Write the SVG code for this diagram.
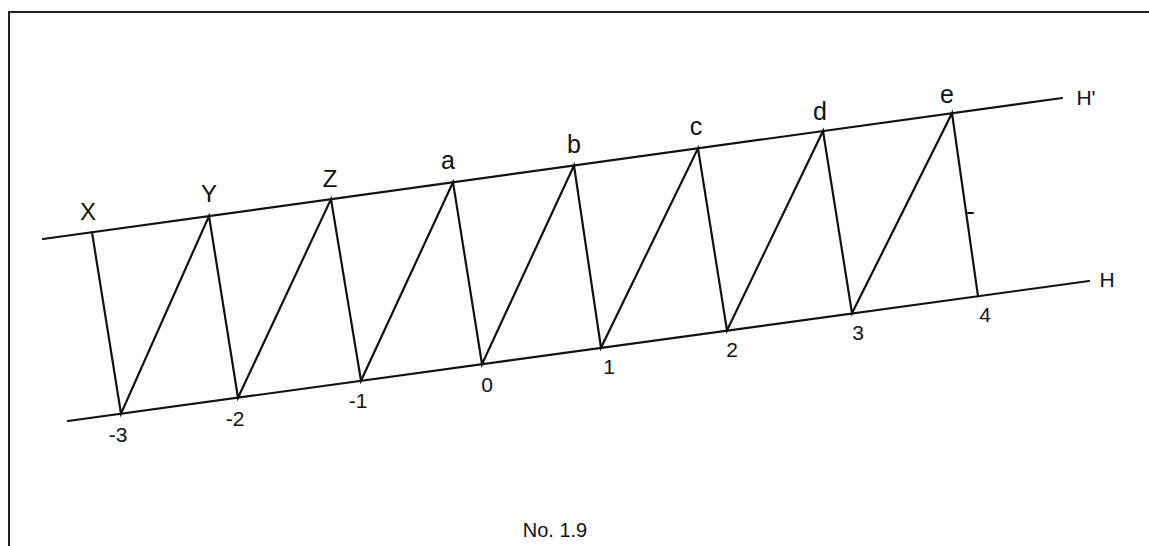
<svg xmlns="http://www.w3.org/2000/svg" width="1149" height="546" viewBox="0 0 1149 546">
<style>
.ln{stroke:#111;stroke-width:2.2;fill:none;stroke-linecap:round}
.bd{stroke:#222;stroke-width:2;fill:none}
.t{font-family:"Liberation Sans","DejaVu Sans",sans-serif;fill:#111;text-anchor:middle}
.cap{font-size:24px}
.lc{font-size:25px}
.dg{font-size:21px}
</style>
<rect width="1149" height="546" fill="#fff"/>
<g id="frame">
<polyline class="bd" points="9,546 9,12 1149,12"/>
</g>
<g id="connectors">
<line class="ln" x1="43" y1="239" x2="1062" y2="98"/>
<line class="ln" x1="68" y1="421" x2="1089" y2="281"/>
<polyline class="ln" points="92,232.2 121,413.7 209,216.0 238,397.7 331,199.1 361,380.8 453,182.2 482,364.2 574,165.5 601,347.7 698,148.3 727,330.4 823,131.0 852,313.3 952,113.2 978,296.2"/>
<line class="ln" x1="968" y1="213" x2="973" y2="213" stroke-width="1.5"/>
</g>
<g id="top-labels">
<text class="t cap" x="88" y="220">X</text>
<text class="t cap" x="209" y="202">Y</text>
<text class="t cap" x="330" y="187">Z</text>
<text class="t lc" x="448" y="169">a</text>
<text class="t lc" x="574" y="153">b</text>
<text class="t lc" x="696" y="135">c</text>
<text class="t lc" x="820" y="120">d</text>
<text class="t lc" x="947" y="103">e</text>
<text class="t dg" x="1086" y="105">H'</text>
</g>
<g id="bottom-labels">
<text class="t dg" x="118" y="442">-3</text>
<text class="t dg" x="235" y="426">-2</text>
<text class="t dg" x="358" y="408">-1</text>
<text class="t dg" x="487" y="392">0</text>
<text class="t dg" x="609" y="374">1</text>
<text class="t dg" x="732" y="357">2</text>
<text class="t dg" x="858" y="340">3</text>
<text class="t dg" x="985" y="322">4</text>
<text class="t dg" x="1107" y="287">H</text>
</g>
<g id="caption">
<text class="t" x="555" y="537" font-size="20">No. 1.9</text>
</g>
</svg>
